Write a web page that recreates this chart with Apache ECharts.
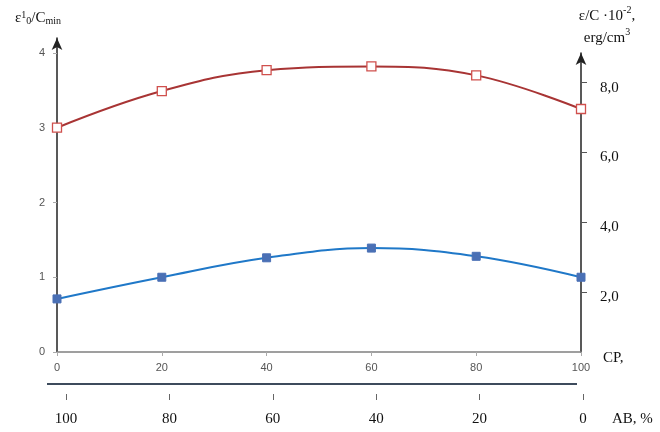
<!DOCTYPE html>
<html><head><meta charset="utf-8">
<script src="https://cdn.jsdelivr.net/npm/echarts@6/dist/echarts.min.js"></script>
<style>html,body{margin:0;padding:0;background:#fff}#c{width:660px;height:432px}</style>
</head><body><div id="c"></div>
<script>
var cpValues = [0, 20, 40, 60, 80, 100];
var abTicks = [100, 80, 60, 40, 20, 0];
var redSeries = [3.0, 3.49, 3.77, 3.82, 3.70, 3.25];
var blueSeries = [0.71, 1.0, 1.26, 1.39, 1.28, 1.0];
var rightTicks = [2, 4, 6, 8];

var chart = echarts.init(document.getElementById('c'));
var serif = 'Liberation Serif';
var sans = 'Liberation Sans';
chart.setOption({
  animation: false,
  grid: [
    {left: 57, right: 79, top: 38, bottom: 80},
    {left: 66, right: 77, top: 360, bottom: 38},
    {left: 57, right: 79, top: 53, bottom: 80}
  ],
  xAxis: [
    {gridIndex: 0, type: 'value', min: 0, max: 100, interval: 20,
     name: '{n|CP,}', nameLocation: 'end', nameGap: 22,
     nameTextStyle: {align: 'left', verticalAlign: 'middle',
       rich: {n: {fontFamily: serif, fontSize: 15, color: '#111', padding: [12, 0, 0, 0]}}},
     axisLine: {onZero: false, lineStyle: {color: '#808080', width: 1.5}},
     axisTick: {length: 4, lineStyle: {color: '#aaa'}},
     axisLabel: {fontFamily: sans, fontSize: 11, color: '#555', margin: 10},
     splitLine: {show: false}},
    {gridIndex: 1, type: 'value', min: 0, max: 100, interval: 20, inverse: true,
     name: '{n|AB, %}', nameLocation: 'start', nameGap: 29,
     nameTextStyle: {align: 'left', verticalAlign: 'middle',
       rich: {n: {fontFamily: serif, fontSize: 15, color: '#111', padding: [50, 0, 0, 0]}}},
     axisLine: {show: false, onZero: false},
     axisTick: {show: true, length: 6, lineStyle: {color: '#666'}},
     axisLabel: {fontFamily: serif, fontSize: 15, color: '#111', margin: 18},
     splitLine: {show: false}},
    {gridIndex: 2, type: 'value', min: 0, max: 100, show: false}
  ],
  yAxis: [
    {gridIndex: 0, type: 'value', min: 0, max: 4.2, interval: 1,
     name: '{a|ε}{sup|1}{sub|0}{a|/C}{sub|min}', nameLocation: 'end', nameGap: 12,
     nameTextStyle: {align: 'center', padding: [0, 38, 0, 0],
       rich: {a: {fontFamily: serif, fontSize: 15, color: '#111'},
              sup: {fontFamily: serif, fontSize: 10, color: '#111', verticalAlign: 'top', padding: [0, 0, 6, 0]},
              sub: {fontFamily: serif, fontSize: 10, color: '#111', padding: [6, 0, 0, 0]}}},
     axisLine: {show: true, onZero: false, symbol: ['none', 'arrow'], symbolSize: [8, 12], symbolOffset: [0, 0], lineStyle: {color: '#222', width: 1.5}},
     axisTick: {show: true, length: 4, lineStyle: {color: '#aaa'}},
     axisLabel: {fontFamily: sans, fontSize: 11, color: '#555', margin: 12, showMaxLabel: false},
     splitLine: {show: false}},
    {gridIndex: 1, type: 'value', show: false},
    {gridIndex: 2, type: 'value', position: 'right', min: 0.29, max: 8.85,
     name: '{a|ε/C ·10}{sup|-2}{a|,}\n{a|erg/cm}{sup|3}', nameLocation: 'end', nameGap: 4,
     nameTextStyle: {align: 'center', padding: [0, 0, 0, 52], lineHeight: 22,
       rich: {a: {fontFamily: serif, fontSize: 15, color: '#111', lineHeight: 22},
              sup: {fontFamily: serif, fontSize: 10, color: '#111', verticalAlign: 'top', lineHeight: 22, padding: [0, 0, 6, 0]}}},
     axisLine: {show: true, onZero: false, symbol: ['none', 'arrow'], symbolSize: [8, 12], symbolOffset: [0, 0], lineStyle: {color: '#222', width: 1.5}},
     axisTick: {show: true, length: 6, customValues: rightTicks, lineStyle: {color: '#555'}},
     axisLabel: {margin: 19, customValues: rightTicks,
       rich: {v: {fontFamily: serif, fontSize: 15, color: '#111', padding: [10, 0, 0, 0]}},
       formatter: function (v) { return '{v|' + v.toFixed(1).replace('.', ',') + '}'; }},
     splitLine: {show: false}}
  ],
  graphic: [
    {type: 'line', shape: {x1: 47, y1: 384, x2: 577, y2: 384}, style: {stroke: '#3d4b5c', lineWidth: 2}}
  ],
  series: [
    {type: 'line', xAxisIndex: 0, yAxisIndex: 0, smooth: 0.4,
     data: cpValues.map(function (x, i) { return [x, redSeries[i]]; }),
     symbol: 'rect', symbolSize: 9,
     lineStyle: {color: '#a83434', width: 2},
     itemStyle: {color: '#fff', borderColor: '#d0504d', borderWidth: 1.3}},
    {type: 'line', xAxisIndex: 0, yAxisIndex: 0, smooth: 0.4,
     data: cpValues.map(function (x, i) { return [x, blueSeries[i]]; }),
     symbol: 'rect', symbolSize: 8,
     lineStyle: {color: '#1f78c8', width: 2},
     itemStyle: {color: '#4a70b5', borderColor: '#4a70b5'}}
  ]
});
</script></body></html>
